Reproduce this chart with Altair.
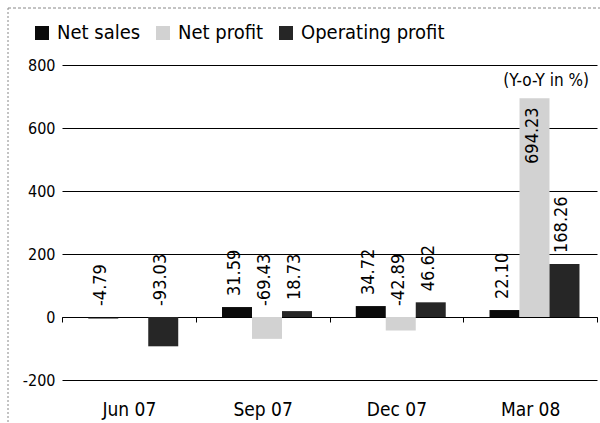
import altair as alt
import pandas as pd

quarters = ["Jun 07", "Sep 07", "Dec 07", "Mar 08"]
series = ["Net sales", "Net profit", "Operating profit"]
net_sales = [-4.79, 31.59, 34.72, 22.10]
net_profit = [None, -69.43, -42.89, 694.23]
operating_profit = [-93.03, 18.73, 46.62, 168.26]
colors = ["#0a0a0a", "#d2d2d2", "#262626"]
y_ticks = [-200, 0, 200, 400, 600, 800]

rows = []
for i, q in enumerate(quarters):
    for s, vals in zip(series, [net_sales, net_profit, operating_profit]):
        rows.append({"quarter": q, "series": s, "value": vals[i]})
df = pd.DataFrame(rows)

FONT = "Liberation Sans Narrow, DejaVu Sans Condensed, Roboto Condensed, sans-serif"
MINUS_FIX = "replace(datum.label, '\u2212', '-')"

x_enc = alt.X("quarter:N", sort=quarters, title=None,
              scale=alt.Scale(paddingInner=0, paddingOuter=0),
              axis=alt.Axis(orient="bottom", offset=-63, tickBand="extent",
                            ticks=True, tickSize=5, tickColor="#000",
                            domain=True, domainColor="#000", domainWidth=1,
                            labelPadding=78, labelFontSize=19, labelFont=FONT,
                            labelColor="#000", labelAngle=0, grid=False))
xo_scale = alt.Scale(paddingInner=0, paddingOuter=0.73, align=0.6)
y_scale = alt.Scale(domain=[-200, 800], nice=False)

base = alt.Chart(df)

bars = base.mark_bar(clip=False).encode(
    x=x_enc,
    xOffset=alt.XOffset("series:N", sort=series, scale=xo_scale),
    y=alt.Y("value:Q", scale=y_scale, title=None,
            axis=alt.Axis(values=y_ticks, grid=True, gridColor="#000",
                          gridWidth=1, gridOpacity=1, ticks=False, domain=False,
                          labelPadding=7, labelFontSize=16, labelFont=FONT,
                          labelColor="#000", labelExpr=MINUS_FIX)),
    color=alt.Color("series:N", sort=series,
                    scale=alt.Scale(domain=series, range=colors),
                    legend=alt.Legend(orient="none", legendX=-30, legendY=-42,
                                      direction="horizontal", title=None,
                                      symbolType="square", symbolSize=196,
                                      symbolStrokeWidth=0, labelFontSize=20,
                                      labelFont=FONT, labelColor="#000",
                                      columnPadding=12, symbolOffset=0,
                                      labelOffset=5)),
)

labels_base = base.transform_filter("isValid(datum.value)").transform_calculate(
    ly="max(datum.value, 0)",
    txt="replace(format(datum.value, '.2f'), '\u2212', '-')",
)

labels_out = labels_base.transform_filter("datum.value < 600").mark_text(
    angle=270, align="left", baseline="middle", dx=11, dy=-2,
    fontSize=18, font=FONT, color="#000"
).encode(
    x=alt.X("quarter:N", sort=quarters),
    xOffset=alt.XOffset("series:N", sort=series, scale=xo_scale),
    y=alt.Y("ly:Q", scale=y_scale),
    text="txt:N",
)

labels_in = labels_base.transform_filter("datum.value >= 600").mark_text(
    angle=270, align="right", baseline="middle", dx=-9, dy=-2,
    fontSize=18, font=FONT, color="#000"
).encode(
    x=alt.X("quarter:N", sort=quarters),
    xOffset=alt.XOffset("series:N", sort=series, scale=xo_scale),
    y=alt.Y("ly:Q", scale=y_scale),
    text="txt:N",
)

note = alt.Chart(pd.DataFrame({"t": ["(Y-o-Y in %)"]})).mark_text(
    align="right", baseline="middle", fontSize=17, font=FONT, color="#000"
).encode(x=alt.value(527), y=alt.value(16), text="t:N")

frame_left = alt.Chart(pd.DataFrame({"a": [0]})).mark_rule(
    color="#888", strokeDash=[2, 2], strokeWidth=1
).encode(x=alt.value(-54), y=alt.value(-57), y2=alt.value(358))
frame_top = alt.Chart(pd.DataFrame({"a": [0]})).mark_rule(
    color="#888", strokeDash=[3, 2], strokeWidth=1
).encode(x=alt.value(-54), x2=alt.value(538), y=alt.value(-57))

chart = alt.layer(bars, labels_out, labels_in, note, frame_left, frame_top).properties(
    width=535, height=315,
    autosize=alt.AutoSizeParams(type="none"),
    padding={"left": 62, "top": 65, "right": 3, "bottom": 43},
    background="#ffffff",
).configure_view(stroke=None)

chart.save("out.html", embed_options={"renderer": "svg", "actions": False})
